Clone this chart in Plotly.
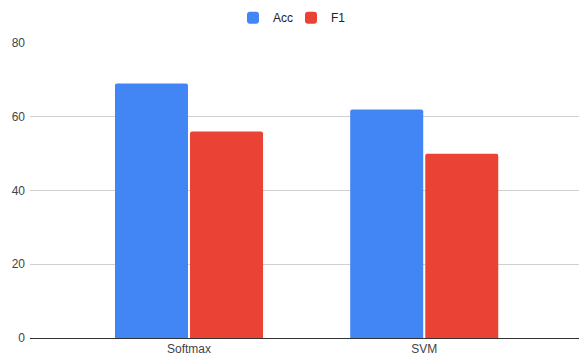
import plotly.graph_objects as go

categories = ["Softmax", "SVM"]
acc = [69, 62]
f1 = [56, 50]
y_ticks = [0, 20, 40, 60, 80]

fig = go.Figure()
fig.add_trace(go.Bar(name="Acc", x=categories, y=acc, marker=dict(color="#4285F4", line=dict(width=0))))
fig.add_trace(go.Bar(name="F1", x=categories, y=f1, marker=dict(color="#EA4335", line=dict(width=0))))

fig.update_layout(
    width=579, height=354,
    margin=dict(l=30, r=0, t=42.7, b=16.3, autoexpand=False),
    paper_bgcolor="white", plot_bgcolor="white",
    barmode="group", bargap=0.362, bargroupgap=0.027, barcornerradius=2,
    font=dict(family="Liberation Sans, Arial, sans-serif", size=12, color="#444"),
    legend=dict(orientation="h", x=233 / 579, xanchor="left", xref="container",
                y=0.95, yanchor="middle", yref="container",
                entrywidth=13, entrywidthmode="pixels",
                font=dict(size=12, color="#222"),
                bgcolor="rgba(0,0,0,0)"),
    showlegend=True,
)
fig.update_xaxes(range=[-0.676, 1.658], showgrid=False, showline=True, linecolor="#333",
                 linewidth=1, ticks="", automargin=False, fixedrange=True)
fig.update_yaxes(range=[0, 80], tickvals=y_ticks, showgrid=True, gridcolor="#d0d0d0",
                 gridwidth=1, zeroline=False, showline=False, ticks="", automargin=False,
                 ticklabelstandoff=4)

fig.write_html("out.html")
